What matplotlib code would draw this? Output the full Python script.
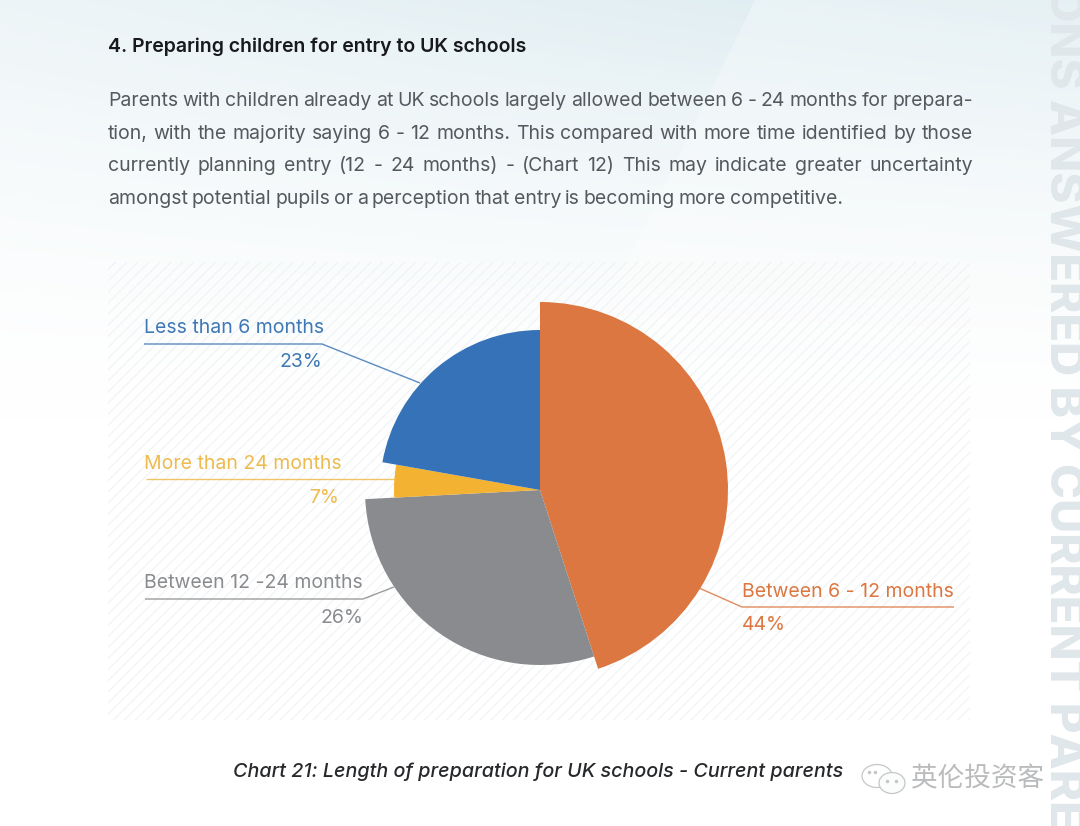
import numpy as np
import matplotlib
matplotlib.use("Agg")
import matplotlib.pyplot as plt
from matplotlib.patches import Wedge, Rectangle, Polygon, Ellipse

# slices, clockwise from 12 o'clock
labels = ["Between 6 - 12 months", "Between 12 -24 months", "More than 24 months", "Less than 6 months"]
pct_labels = ["44%", "26%", "7%", "23%"]
colors = ["#DC7741", "#8A8B8E", "#F4B233", "#3572B8"]
# angle and radius as drawn in the picture (not the same as the printed percent)
spans = [162, 105, 13, 80]
radii = [188, 175, 146, 160]

title = "4. Preparing children for entry to UK schools"
body = [
    "Parents with children already at UK schools largely allowed between 6 - 24 months for prepara-",
    "tion, with the majority saying 6 - 12 months. This compared with more time identified by those",
    "currently planning entry (12 - 24 months) - (Chart 12) This may indicate greater uncertainty",
    "amongst potential pupils or a perception that entry is becoming more competitive.",
]
caption = "Chart 21: Length of preparation for UK schools - Current parents"
side_text = "ONS ANSWERED BY CURRENT PARE"
mark_text = "英伦投资客"

plt.rcParams['font.family'] = ['Inter', 'DejaVu Sans']
plt.rcParams['hatch.linewidth'] = 0.8

fig = plt.figure(figsize=(10.8, 8.26), dpi=100)
ax = fig.add_axes([0, 0, 1, 1])
ax.set_xlim(0, 1080)
ax.set_ylim(826, 0)
ax.axis("off")

# background wash
yy, xx = np.mgrid[0:826, 0:1080]
wash = np.clip(1 - yy / 420.0, 0, 1) ** 1.5 * (0.5 + 0.5 * xx / 1080.0)
bg = np.ones((826, 1080, 3))
low = np.array([0.86, 0.92, 0.94])
for i in range(3):
    bg[:, :, i] = 1 - (1 - low[i]) * wash
ax.imshow(bg, extent=(0, 1080, 826, 0), aspect="auto", zorder=0)
ax.add_patch(Polygon([(755, 0), (1080, 0), (1080, 826), (560, 826), (560, 400)], closed=True,
                     facecolor="white", alpha=0.3, edgecolor="none", zorder=0.5))

# hatched panel behind the chart
ax.add_patch(Rectangle((108, 262), 862, 458, facecolor="none", edgecolor="#F0F3F5",
                       hatch="///", linewidth=0, zorder=1))

# side watermark
ax.text(1062, -15, side_text, rotation=-90, ha="center", va="top", fontsize=34,
        fontweight="heavy", color="#DFE7EB", zorder=1, clip_on=True)

# text block
ax.text(108, 47, title, fontsize=14, fontweight="semibold", color="#17191C", va="center", zorder=3)

renderer = fig.canvas.get_renderer()
line_y = [101, 134, 166, 199]
for n, line in enumerate(body):
    words = line.split(" ")
    t = [ax.text(0, line_y[n], w, fontsize=14, color="#54595E", va="center", zorder=3) for w in words]
    w_px = [a.get_window_extent(renderer).width for a in t]
    if n < 3:
        gap = (973 - 108 - sum(w_px)) / (len(words) - 1)
    else:
        gap = (843 - 108 - sum(w_px)) / (len(words) - 1)
    x = 108
    for a, w in zip(t, w_px):
        a.set_x(x)
        x += w + gap

# pie
center = (540, 490)
start = -90
for span, r, c in zip(spans, radii, colors):
    ax.add_patch(Wedge(center, r, start, start + span, facecolor=c, edgecolor="none", zorder=2))
    start += span

# leaders and labels
leader_xy = [
    [(954, 607), (742, 607), (699, 588)],
    [(145, 599), (363, 599), (394, 587)],
    [(146, 479), (396, 479)],
    [(144, 344), (322, 344), (420, 383)],
]
name_xy = [(742, 592), (144, 583), (144, 464), (144, 328)]
pct_xy = [(742, 625), (363, 618), (339, 498), (322, 362)]
pct_ha = ["left", "right", "right", "right"]
text_colors = ["#DC7741", "#8A8B8E", "#EDBB4E", "#3F78B5"]
for i in range(4):
    xs, ys = zip(*leader_xy[i])
    ax.plot(xs, ys, color=text_colors[i], lw=1.0, alpha=0.85, zorder=1.5, solid_capstyle="butt")
    ax.text(name_xy[i][0], name_xy[i][1], labels[i], color=text_colors[i], fontsize=14,
            va="center", ha="left", zorder=3)
    ax.text(pct_xy[i][0], pct_xy[i][1], pct_labels[i], color=text_colors[i], fontsize=14,
            va="center", ha=pct_ha[i], zorder=3)

# caption
ax.text(233, 772, caption, fontsize=14.2, style="italic", fontweight="medium",
        color="#26282B", va="center", ha="left", zorder=3)

# wechat mark
ax.text(911, 779, mark_text, fontsize=19.2, color="#B9BBBD", va="center", ha="left", zorder=3,
        family=['Noto Sans CJK SC', 'DejaVu Sans'])
ax.add_patch(Ellipse((877, 776), 30, 23, facecolor="none", edgecolor="#C4C6C8", lw=0.9, zorder=3))
ax.add_patch(Ellipse((892, 783), 26, 21, facecolor="#FBFCFC", edgecolor="#C4C6C8", lw=0.9, zorder=3))
ax.plot([869, 875], [772, 772], ls="none", marker="o", ms=1.5, color="#C4C6C8", zorder=3)
ax.plot([887, 896], [781, 781], ls="none", marker="o", ms=1.5, color="#C4C6C8", zorder=3)

fig.savefig("out.png", dpi=100)
